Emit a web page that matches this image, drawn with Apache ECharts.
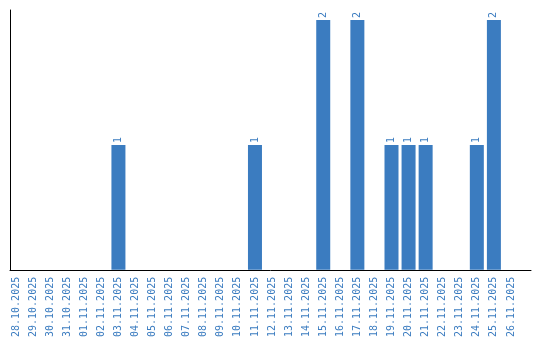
<!DOCTYPE html>
<html><head><meta charset="utf-8">
<script src="https://cdn.jsdelivr.net/npm/echarts@6/dist/echarts.min.js"></script>
<style>html,body{margin:0;padding:0;background:#fff}#c{width:540px;height:340px}</style>
</head><body><div id="c"></div>
<script>
const categories = ["28.10.2025","29.10.2025","30.10.2025","31.10.2025","01.11.2025","02.11.2025","03.11.2025","04.11.2025","05.11.2025","06.11.2025","07.11.2025","08.11.2025","09.11.2025","10.11.2025","11.11.2025","12.11.2025","13.11.2025","14.11.2025","15.11.2025","16.11.2025","17.11.2025","18.11.2025","19.11.2025","20.11.2025","21.11.2025","22.11.2025","23.11.2025","24.11.2025","25.11.2025","26.11.2025"];
const values = [0,0,0,0,0,0,1,0,0,0,0,0,0,0,1,0,0,0,2,0,2,0,1,1,1,0,0,1,2,0];
const yMax = 2.08;
const blue = '#3b7cc0';
const chart = echarts.init(document.getElementById('c'));
chart.setOption({
  animation:false,
  grid:[
    {left:10,right:9,top:10,bottom:70},
    {left:7.5,width:512,top:10,bottom:70}
  ],
  xAxis:[
    {gridIndex:0,type:'value',min:0,max:1,axisLine:{show:true,lineStyle:{color:'#000',width:1}},axisTick:{show:false},axisLabel:{show:false},splitLine:{show:false}},
    {gridIndex:1,type:'category',data:categories,axisLine:{show:false},axisTick:{show:false},splitLine:{show:false},
     axisLabel:{rotate:90,interval:0,margin:7,color:blue,fontFamily:'DejaVu Sans Mono',fontSize:10}}
  ],
  yAxis:[
    {gridIndex:0,type:'value',min:0,max:1,axisLine:{show:true,lineStyle:{color:'#000',width:1}},axisTick:{show:false},axisLabel:{show:false},splitLine:{show:false}},
    {gridIndex:1,type:'value',min:0,max:yMax,show:false,splitLine:{show:false}}
  ],
  series:[{
    type:'bar',xAxisIndex:1,yAxisIndex:1,data:values,barWidth:14,
    itemStyle:{color:blue},
    label:{show:true,position:'top',rotate:90,align:'left',verticalAlign:'middle',distance:2,color:blue,fontFamily:'DejaVu Sans Mono',fontSize:10,
      formatter:p=>p.value?String(p.value):''}
  }]
});
</script></body></html>
